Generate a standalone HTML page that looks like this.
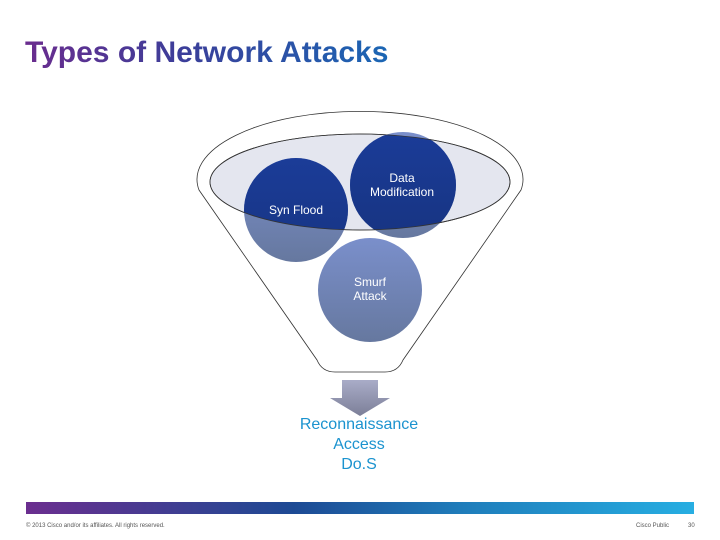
<!DOCTYPE html>
<html><head><style>
body{margin:0;width:720px;height:540px;background:#fff;position:relative;overflow:hidden;font-family:"Liberation Sans",sans-serif}
.t{position:absolute;left:25px;top:36px;font-size:30px;font-weight:bold;letter-spacing:0px;background:linear-gradient(90deg,#6a2c8e,#3a3f9a 45%,#1b66b4);-webkit-background-clip:text;color:transparent}
.bar{position:absolute;left:26px;top:502px;width:668px;height:12px;background:linear-gradient(90deg,#6b2e8f,#1d4a94 40%,#1f7cba 65%,#27aee2)}
.f{position:absolute;top:523px;font-size:6px;color:#555}
.r{position:absolute;left:259px;width:200px;text-align:center;top:415px;font-size:16px;line-height:20px;color:#1b93cf}
</style></head><body>
<div class="t">Types of Network Attacks</div>
<svg width="720" height="540" style="position:absolute;left:0;top:0">
<defs>
<linearGradient id="lc" x1="0" y1="0" x2="0" y2="1"><stop offset="0" stop-color="#7a8fcb"/><stop offset="1" stop-color="#66789f"/></linearGradient>
<linearGradient id="dc" x1="0" y1="0" x2="0" y2="1"><stop offset="0" stop-color="#1b3c98"/><stop offset="1" stop-color="#173482"/></linearGradient>
<linearGradient id="ar" x1="0" y1="0" x2="0" y2="1"><stop offset="0" stop-color="#a9acc8"/><stop offset="1" stop-color="#7c7f98"/></linearGradient>
<clipPath id="el"><ellipse cx="360" cy="182" rx="150" ry="48"/></clipPath>
</defs>
<path d="M199,190 A163,68 0 1 1 521,190 L403,360 Q398,372 385,372 L335,372 Q322,372 317,360 Z" fill="#fff" stroke="#333" stroke-width="0.8"/>
<ellipse cx="360" cy="182" rx="150" ry="48" fill="#e4e6ef" stroke="#333" stroke-width="0.8"/>
<circle cx="296" cy="210" r="52" fill="url(#lc)"/>
<circle cx="403" cy="185" r="53" fill="url(#lc)"/>
<g clip-path="url(#el)"><circle cx="296" cy="210" r="52" fill="url(#dc)"/><circle cx="403" cy="185" r="53" fill="url(#dc)"/></g>
<ellipse cx="360" cy="182" rx="150" ry="48" fill="none" stroke="#333" stroke-width="0.8"/>
<circle cx="370" cy="290" r="52" fill="url(#lc)"/>
<path d="M342,380 H378 V398 H390 L360,416 L330,398 H342 Z" fill="url(#ar)"/>
<g font-family="Liberation Sans,sans-serif" font-size="12" fill="#fff" text-anchor="middle">
<text x="296" y="214">Syn Flood</text>
<text x="402" y="182">Data</text><text x="402" y="196">Modification</text>
<text x="370" y="286">Smurf</text><text x="370" y="300">Attack</text>
</g>
</svg>
<div class="r">Reconnaissance<br>Access<br>Do.S</div>
<div class="bar"></div>
<div class="f" style="left:26px">© 2013 Cisco and/or its affiliates. All rights reserved.</div>
<div class="f" style="left:636px">Cisco Public</div>
<div class="f" style="left:688px">30</div>
</body></html>
